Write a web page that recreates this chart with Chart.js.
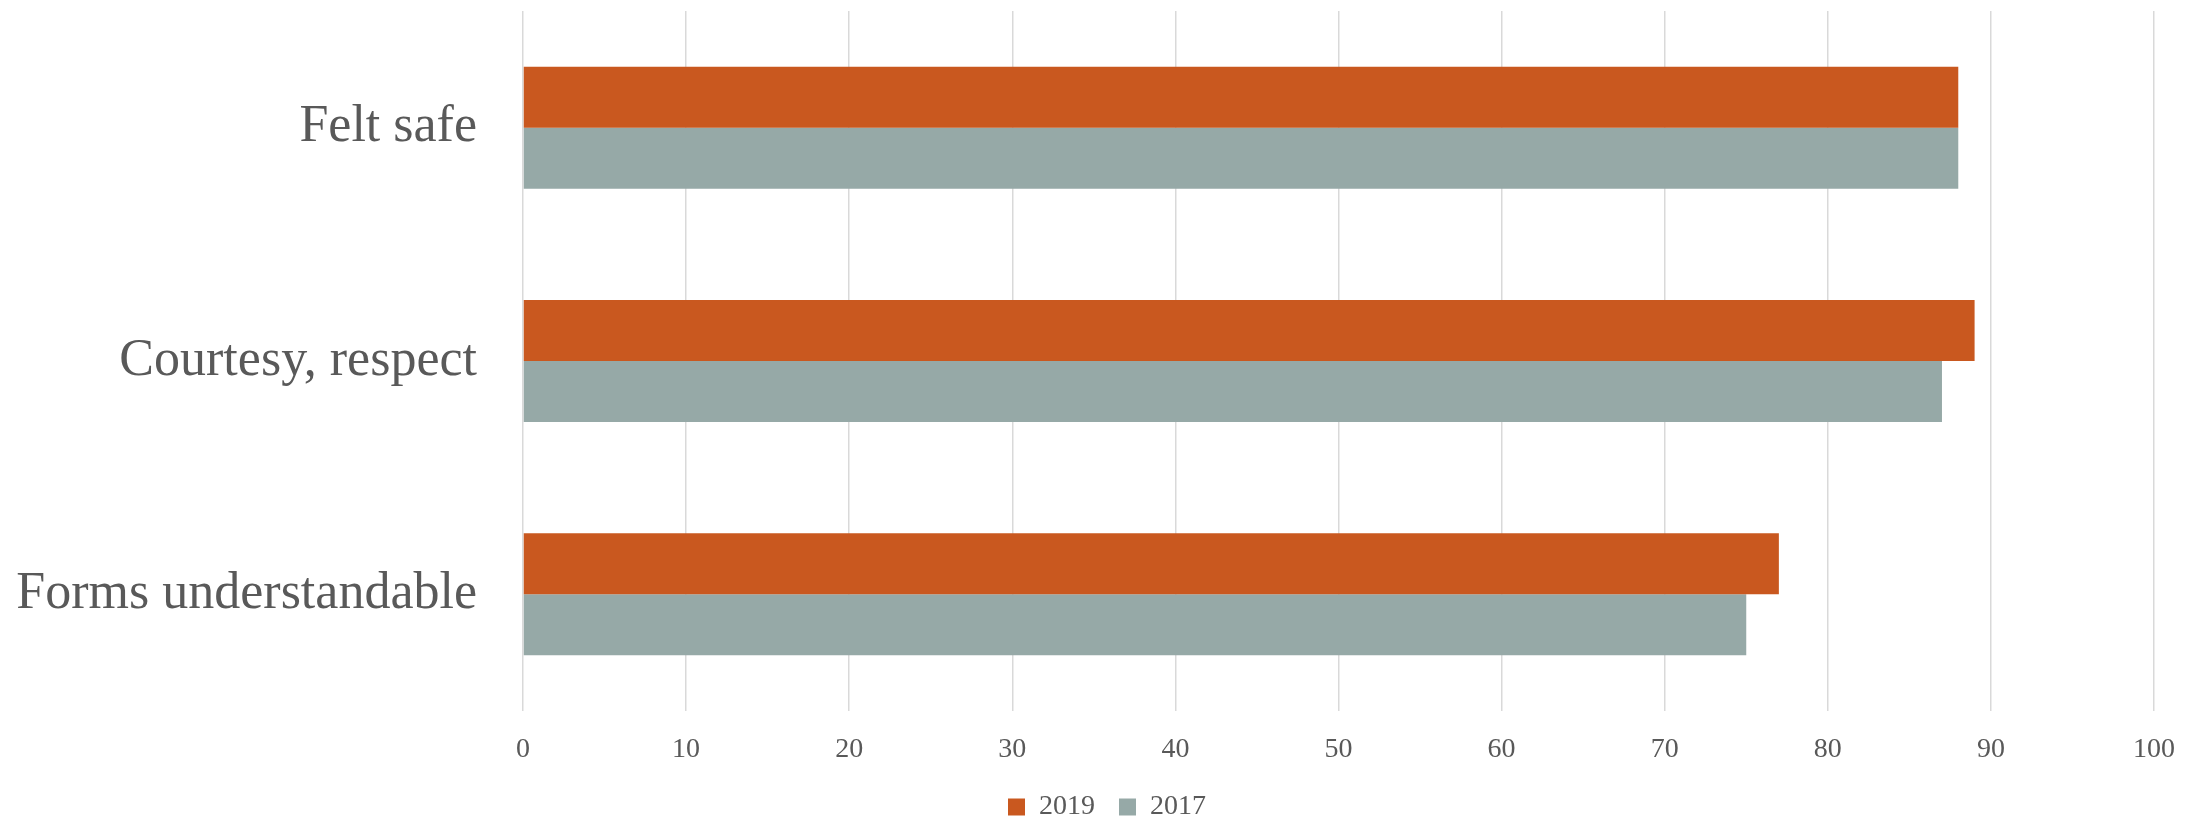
<!DOCTYPE html>
<html>
<head>
<meta charset="utf-8">
<script src="https://cdn.jsdelivr.net/npm/chart.js@4/dist/chart.umd.min.js"></script>
<style>
  html, body { margin: 0; padding: 0; background: #fff; }
  #wrap { width: 2203px; height: 822px; }
</style>
</head>
<body>
<div id="wrap"><canvas id="chart"></canvas></div>
<script>
// dados do gráfico
const categories = ['Felt safe', 'Courtesy, respect', 'Forms understandable'];
const values2019 = [88, 89, 77];
const values2017 = [88, 87, 75];
const xTicks = [0, 10, 20, 30, 40, 50, 60, 70, 80, 90, 100];

const textColor = '#595959';
const serif = "'Liberation Serif', 'DejaVu Serif', serif";

// desloca a legenda para ficar centrada na página
const legendShift = {
    id: 'legendShift',
    afterLayout(c) {
        c.legend.left += 30;
        c.legend.right += 30;
    }
};

const ctx = document.getElementById('chart').getContext('2d');
const chart = new Chart(ctx, {
    type: 'bar',
    data: {
        labels: categories,
        datasets: [{
            label: '2019',
            data: values2019,
            backgroundColor: '#C9581F',
            categoryPercentage: 0.523,
            barPercentage: 1.0
        }, {
            label: '2017',
            data: values2017,
            backgroundColor: '#96A9A7',
            categoryPercentage: 0.523,
            barPercentage: 1.0
        }]
    },
    options: {
        indexAxis: 'y',
        responsive: true,
        maintainAspectRatio: false,
        animation: false,
        layout: { padding: { top: 11, right: 49, left: 0, bottom: -9 } },
        plugins: {
            tooltip: { enabled: false },
            legend: {
                position: 'bottom',
                labels: {
                    color: textColor,
                    font: { family: serif, size: 28 },
                    boxWidth: 17,
                    boxHeight: 17,
                    padding: 24
                }
            }
        },
        scales: {
            x: {
                min: 0,
                max: 100,
                afterBuildTicks: (scale) => { scale.ticks = xTicks.map(v => ({ value: v })); },
                afterFit: (scale) => { scale.height = 58; },
                grid: { color: '#D9D9D9', lineWidth: 1.5, drawTicks: false },
                border: { display: false },
                ticks: {
                    color: textColor,
                    font: { family: serif, size: 28 },
                    padding: 22
                }
            },
            y: {
                // largura fixa e sem folga extra em cima/embaixo
                afterFit: (scale) => {
                    scale.width = 523;
                    scale.paddingTop = 0;
                    scale.paddingBottom = 0;
                },
                grid: { display: false, drawTicks: false },
                border: { display: false },
                ticks: {
                    color: textColor,
                    font: { family: serif, size: 52 },
                    padding: 46
                }
            }
        }
    },
    plugins: [legendShift]
});
</script>
</body>
</html>
